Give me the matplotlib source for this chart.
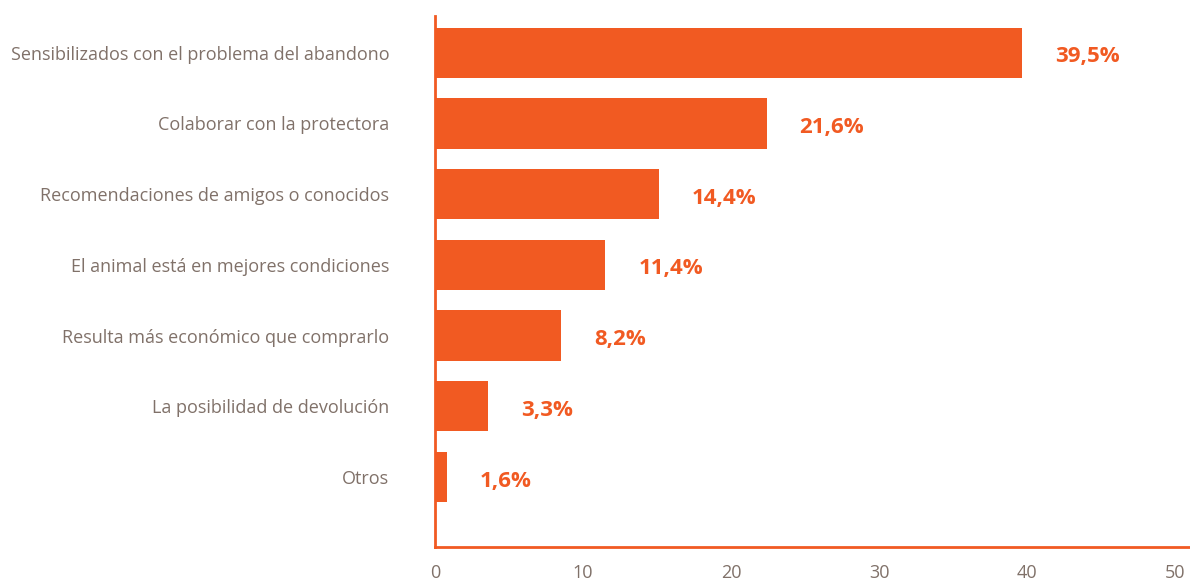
import matplotlib
matplotlib.use("Agg")
import matplotlib.pyplot as plt

categories = [
    "Sensibilizados con el problema del abandono",
    "Colaborar con la protectora",
    "Recomendaciones de amigos o conocidos",
    "El animal está en mejores condiciones",
    "Resulta más económico que comprarlo",
    "La posibilidad de devolución",
    "Otros",
]
bar_lengths = [39.65, 22.4, 15.1, 11.5, 8.5, 3.6, 0.8]
value_labels = ["39,5%", "21,6%", "14,4%", "11,4%", "8,2%", "3,3%", "1,6%"]
x_ticks = [0, 10, 20, 30, 40, 50]

orange = "#f15a22"
gray = "#807169"

fig = plt.figure(figsize=(11.9, 5.8), dpi=100)
ax = fig.add_axes([435/1190, 33/580, 755/1190, (547-16)/580])

y = list(range(len(categories)))
ax.barh(y, bar_lengths, height=0.71, color=orange, zorder=2)
ax.set_ylim(6.99, -0.52)
ax.set_xlim(0, 51.0)

for yi, v, lab in zip(y, bar_lengths, value_labels):
    ax.annotate(lab, (v, yi), xytext=(33, -4), textcoords="offset pixels",
                va="center", ha="left", color=orange, fontsize=16,
                fontweight="bold", family="Open Sans")

ax.set_yticks(y)
ax.set_yticklabels(categories, family="Open Sans", fontsize=13, color=gray)
ax.set_xticks(x_ticks)
ax.set_xticklabels([str(t) for t in x_ticks], family="Open Sans", fontsize=13, color=gray)
ax.tick_params(axis="y", length=0, pad=33)
ax.tick_params(axis="x", length=0, pad=12)

for s in ["top", "right"]:
    ax.spines[s].set_visible(False)
for s in ["left", "bottom"]:
    ax.spines[s].set_color(orange)
    ax.spines[s].set_linewidth(2)

fig.savefig("out.png", dpi=100)
